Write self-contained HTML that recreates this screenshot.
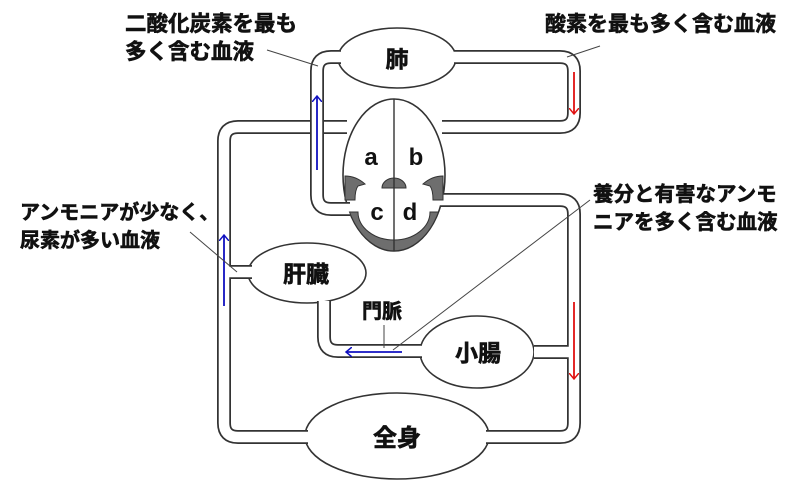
<!DOCTYPE html>
<html><head><meta charset="utf-8"><style>
html,body{margin:0;padding:0;background:#fff;}
svg{display:block;}
text{font-family:"Liberation Sans","Noto Sans CJK JP",sans-serif;font-weight:bold;fill:#111;}
.j{stroke:#111;stroke-width:0.6;}
</style></head><body>
<svg width="800" height="490" viewBox="0 0 800 490" xmlns="http://www.w3.org/2000/svg">
<defs>
<marker id="ab" markerWidth="10" markerHeight="10" refX="5" refY="5" orient="auto" markerUnits="userSpaceOnUse"><path d="M0,0 L6,5 L0,10" fill="none" stroke="#1010c0" stroke-width="1.5"/></marker>
<marker id="ar" markerWidth="10" markerHeight="10" refX="5" refY="5" orient="auto" markerUnits="userSpaceOnUse"><path d="M0,0 L6,5 L0,10" fill="none" stroke="#e01010" stroke-width="1.5"/></marker>
</defs>
<ellipse cx="394" cy="175" rx="51" ry="76" fill="#fff" stroke="#333" stroke-width="1.6"/>
<ellipse cx="397" cy="58" rx="59" ry="30" fill="#fff" stroke="#333" stroke-width="1.6"/>
<ellipse cx="307" cy="273" rx="59" ry="30" fill="#fff" stroke="#333" stroke-width="1.6"/>
<ellipse cx="477" cy="352" rx="57" ry="36" fill="#fff" stroke="#333" stroke-width="1.6"/>
<ellipse cx="397" cy="436" rx="92" ry="43" fill="#fff" stroke="#333" stroke-width="1.6"/>
<g fill="none" stroke-linejoin="round">
<g stroke="#333" stroke-width="14">
<path d="M347,127 H238 Q224,127 224,141 V423 Q224,437 238,437 H308"/>
<path d="M486,437 H560 Q574,437 574,423 V214 Q574,200 560,200 H440"/>
<path d="M442,127 H560 Q574,127 574,113 V71 Q574,57 560,57 H454"/>
<path d="M224,272 H252"/>
<path d="M324,301 V337 Q324,351 338,351 H422"/>
<path d="M534,352 H574"/>
</g>
<g stroke="#fff" stroke-width="10.5">
<path d="M347,127 H238 Q224,127 224,141 V423 Q224,437 238,437 H308"/>
<path d="M486,437 H560 Q574,437 574,423 V214 Q574,200 560,200 H440"/>
<path d="M442,127 H560 Q574,127 574,113 V71 Q574,57 560,57 H454"/>
<path d="M220,272 H252"/>
<path d="M324,301 V337 Q324,351 338,351 H422"/>
<path d="M534,352 H578"/>
</g>
<path d="M341,57 H331 Q317,57 317,71 V195 Q317,209 331,209 H350" stroke="#333" stroke-width="14"/>
<path d="M341,57 H331 Q317,57 317,71 V195 Q317,209 331,209 H350" stroke="#fff" stroke-width="10.5"/>
</g>
<path d="M349.5,212 A51,76 0 0 0 438.5,212 L430,212 A36,28 0 0 1 358,212 Z" fill="#6e6e6e" stroke="#333" stroke-width="1"/>
<path d="M345,176 Q356,176 365,184 L358,186 Q355,190 355,200 L345,200 Z" fill="#6e6e6e" stroke="#333" stroke-width="1"/>
<path d="M443,176 Q432,176 423,184 L430,186 Q433,190 433,200 L443,200 Z" fill="#6e6e6e" stroke="#333" stroke-width="1"/>
<path d="M382,188 A12,10 0 0 1 406,188 Z" fill="#6e6e6e" stroke="#333" stroke-width="1"/>
<line x1="394" y1="99" x2="394" y2="251" stroke="#333" stroke-width="1.4"/>
<line x1="317" y1="170" x2="317" y2="97" stroke="#1010c0" stroke-width="1.8" marker-end="url(#ab)"/>
<line x1="224" y1="306" x2="224" y2="236" stroke="#1010c0" stroke-width="1.8" marker-end="url(#ab)"/>
<line x1="402" y1="352" x2="347" y2="352" stroke="#1010c0" stroke-width="1.8" marker-end="url(#ab)"/>
<line x1="574" y1="72" x2="574" y2="113" stroke="#e01010" stroke-width="1.8" marker-end="url(#ar)"/>
<line x1="574" y1="302" x2="574" y2="378" stroke="#e01010" stroke-width="1.8" marker-end="url(#ar)"/>
<g stroke="#444" stroke-width="1">
<line x1="267" y1="50" x2="318" y2="66"/>
<line x1="567" y1="57" x2="600" y2="46"/>
<line x1="190" y1="232" x2="237" y2="272"/>
<line x1="590" y1="200" x2="393" y2="350"/>
<line x1="384" y1="325" x2="384" y2="348"/>
</g>
<g class="j">
<text x="125" y="31" font-size="21.5">二酸化炭素を最も</text>
<text x="125" y="59" font-size="21.5">多く含む血液</text>
<text x="545" y="31" font-size="21">酸素を最も多く含む血液</text>
<text x="20" y="219" font-size="20">アンモニアが少なく、</text>
<text x="20" y="247" font-size="20">尿素が多い血液</text>
<text x="593" y="201" font-size="20.5">養分と有害なアンモ</text>
<text x="593" y="229" font-size="20.5">ニアを多く含む血液</text>
<text x="362" y="318" font-size="20">門脈</text>
<text x="397" y="67" font-size="23" text-anchor="middle">肺</text>
<text x="306" y="282" font-size="23" text-anchor="middle">肝臓</text>
<text x="478" y="361" font-size="23" text-anchor="middle">小腸</text>
<text x="397" y="446" font-size="24" text-anchor="middle">全身</text>
</g>
<text x="371" y="165" font-size="24" text-anchor="middle">a</text>
<text x="416" y="165" font-size="24" text-anchor="middle">b</text>
<text x="377" y="220" font-size="24" text-anchor="middle">c</text>
<text x="410" y="220" font-size="24" text-anchor="middle">d</text>
</svg>
</body></html>
